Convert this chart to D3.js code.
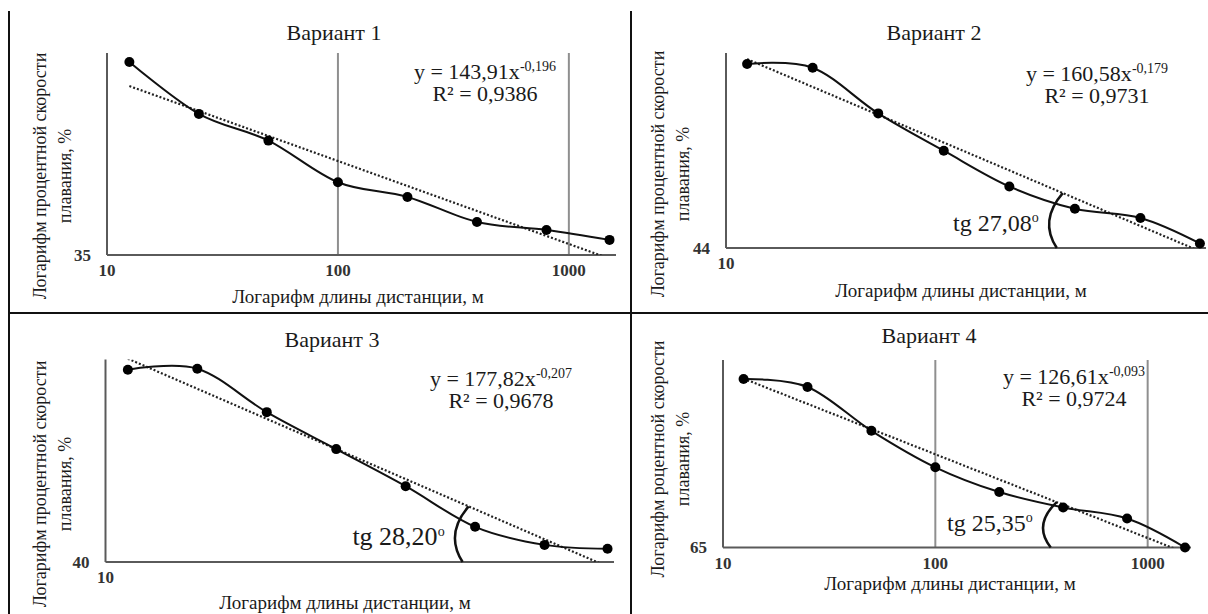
<!DOCTYPE html>
<html>
<head>
<meta charset="utf-8">
<script src="https://cdn.jsdelivr.net/npm/d3@7"></script>
<style>
  body { margin: 0; background: #fff; }
  svg { display: block; }
  svg text { font-family: "Liberation Serif", "DejaVu Serif", serif; fill: #1a1a1a; }
</style>
</head>
<body>
<svg id="chart"></svg>
<script>
// Page size
var width = 1208;
var height = 614;

// Distances, m (x axis, log scale)
var distances = [12.5, 25, 50, 100, 200, 400, 800, 1500];

// Percent swimming speed for each variant (y axis, log scale)
var variant1 = [100, 75.4, 65.2, 52.0, 48.0, 41.9, 40.1, 38.0];
var variant2 = [100, 98.3, 80.2, 67.9, 57.9, 52.4, 50.3, 44.9];
var variant3 = [100, 100.5, 81.7, 68.5, 57.4, 47.3, 43.4, 42.6];
var variant4 = [100, 98.0, 87.6, 79.8, 74.9, 72.0, 70.0, 65.0];
var series = [variant1, variant2, variant3, variant4];

var titles = ["Вариант 1", "Вариант 2", "Вариант 3", "Вариант 4"];
var yMins = [35, 44, 40, 65];
var yMax = 105;
var xDomain = [10, 1600];
var xTickValues = [[10, 100, 1000], [10], [10], [10, 100, 1000]];
var gridValues = [[100, 1000], [], [], [100, 1000]];

// Power trendlines y = a * x^b, as printed on the chart
var trendA = [143.91, 160.58, 177.82, 126.61];
var trendB = [-0.196, -0.179, -0.207, -0.093];
var trendAText = ["143,91", "160,58", "177,82", "126,61"];
var trendBText = ["-0,196", "-0,179", "-0,207", "-0,093"];
var r2Text = ["0,9386", "0,9731", "0,9678", "0,9724"];

// Angle marks: distance where the arc meets the trend line, and label
var angleAt = [null, 352, 375, 373];
var angleText = [null, "tg 27,08", "tg 28,20", "tg 25,35"];
var angleFont = [0, 24, 26, 24];

var yTitle1 = ["Логарифм процентной скорости", "Логарифм процентной скорости",
               "Логарифм процентной скорости", "Логарифм роцентной скорости"];
var yTitle2 = "плавания, %";
var xTitle = "Логарифм длины дистанции, м";

var serif = "'Liberation Serif', 'DejaVu Serif', serif";

// Layout of the four panels (plot box and text anchors)
var layout = [
  { left: 107, right: 616, top: 53, bottom: 255, titleX: 334, titleY: 40, eqX: 485, eqY: 79, ytX: 40, ytY: 176, xtX: 358, xtY: 303 },
  { left: 726, right: 1206, top: 53, bottom: 248, titleX: 934, titleY: 40, eqX: 1097, eqY: 81, ytX: 658, ytY: 174, xtX: 961, xtY: 297 },
  { left: 105.5, right: 614, top: 359.5, bottom: 562, titleX: 332, titleY: 347, eqX: 501, eqY: 386, ytX: 40, ytY: 484, xtX: 345, xtY: 609 },
  { left: 723, right: 1191, top: 360, bottom: 547.5, titleX: 929, titleY: 343, eqX: 1074, eqY: 384, ytX: 658, ytY: 459, xtX: 950, xtY: 590 }
];

var svg = d3.select("#chart")
    .attr("width", width)
    .attr("height", height)
    .attr("font-family", serif);

// Frame lines of the table
var frame = svg.append("g")
    .attr("stroke", "#111")
    .attr("stroke-width", 2);
frame.append("line").attr("x1", 9).attr("x2", 9).attr("y1", 11).attr("y2", height);
frame.append("line").attr("x1", 631).attr("x2", 631).attr("y1", 11).attr("y2", height);
frame.append("line").attr("x1", 9).attr("x2", width).attr("y1", 313).attr("y2", 313);

layout.forEach(function(p, i) {
  var g = svg.append("g");

  var x = d3.scaleLog().domain(xDomain).range([p.left, p.right]);
  var y = d3.scaleLog().domain([yMins[i], yMax]).range([p.bottom, p.top]);

  var trend = function(d) { return trendA[i] * Math.pow(d, trendB[i]); };

  // Title
  g.append("text")
      .attr("x", p.titleX)
      .attr("y", p.titleY)
      .attr("text-anchor", "middle")
      .style("font-size", "22px")
      .text(titles[i]);

  // Vertical gridlines
  g.selectAll(".grid")
      .data(gridValues[i])
      .enter().append("line")
      .attr("x1", function(d) { return x(d); })
      .attr("x2", function(d) { return x(d); })
      .attr("y1", p.top)
      .attr("y2", p.bottom)
      .attr("stroke", "#8f8f8f")
      .attr("stroke-width", 2);

  // Axis lines
  g.append("line")
      .attr("x1", p.left).attr("x2", p.left)
      .attr("y1", p.top).attr("y2", p.bottom)
      .attr("stroke", "#5a5a5a").attr("stroke-width", 2);
  g.append("line")
      .attr("x1", p.left).attr("x2", p.right)
      .attr("y1", p.bottom).attr("y2", p.bottom)
      .attr("stroke", "#5a5a5a").attr("stroke-width", 2);

  // X tick labels
  g.selectAll(".xtick")
      .data(xTickValues[i])
      .enter().append("text")
      .attr("x", function(d) { return x(d); })
      .attr("y", p.bottom + 21)
      .attr("text-anchor", "middle")
      .style("font-size", "17px")
      .style("font-weight", "bold")
      .style("fill", "#333")
      .text(function(d) { return d; });

  // Y min label
  g.append("text")
      .attr("x", p.left - 16)
      .attr("y", y(yMins[i]))
      .attr("dy", "0.35em")
      .attr("text-anchor", "end")
      .style("font-size", "17px")
      .style("font-weight", "bold")
      .style("fill", "#333")
      .text(yMins[i]);

  // Trendline (dotted), clipped to the plot box
  var clipId = "clip" + i;
  svg.append("clipPath").attr("id", clipId)
      .append("rect")
      .attr("x", p.left).attr("y", p.top)
      .attr("width", p.right - p.left).attr("height", p.bottom - p.top);

  var trendEnds = [distances[0], distances[distances.length - 1]];
  g.append("path")
      .datum(trendEnds)
      .attr("clip-path", "url(#" + clipId + ")")
      .attr("fill", "none")
      .attr("stroke", "#222")
      .attr("stroke-width", 2.2)
      .attr("stroke-dasharray", "2,2")
      .attr("d", d3.line()
          .x(function(d) { return x(d); })
          .y(function(d) { return y(trend(d)); }));

  // Smoothed data line
  var pts = distances.map(function(d, k) { return [d, series[i][k]]; });
  g.append("path")
      .datum(pts)
      .attr("fill", "none")
      .attr("stroke", "#111")
      .attr("stroke-width", 2)
      .attr("d", d3.line()
          .curve(d3.curveCardinal.tension(0))
          .x(function(d) { return x(d[0]); })
          .y(function(d) { return y(d[1]); }));

  g.selectAll(".dot")
      .data(pts)
      .enter().append("circle")
      .attr("cx", function(d) { return x(d[0]); })
      .attr("cy", function(d) { return y(d[1]); })
      .attr("r", 5)
      .attr("fill", "#000");

  // Equation and R²
  var eq = g.append("text")
      .attr("x", p.eqX)
      .attr("y", p.eqY)
      .attr("text-anchor", "middle")
      .style("font-size", "22px");
  eq.append("tspan").text("y = " + trendAText[i] + "x");
  eq.append("tspan")
      .attr("dy", -8)
      .style("font-size", "14px")
      .text(trendBText[i]);
  g.append("text")
      .attr("x", p.eqX)
      .attr("y", p.eqY + 22)
      .attr("text-anchor", "middle")
      .style("font-size", "22px")
      .text("R² = " + r2Text[i]);

  // Angle arc and label
  if (angleAt[i] !== null) {
    var xt = x(angleAt[i]);
    var yt = y(trend(angleAt[i]));
    var yb = y(yMins[i]);
    var xb = xt - 6;
    var arcPath = d3.path();
    arcPath.moveTo(xt, yt);
    arcPath.quadraticCurveTo(xt - 24, (yt + yb) / 2, xb, yb);
    g.append("path")
        .attr("d", arcPath.toString())
        .attr("fill", "none")
        .attr("stroke", "#111")
        .attr("stroke-width", 2.5);

    var lab = g.append("text")
        .attr("x", xb - 18)
        .attr("y", yb - 17)
        .attr("text-anchor", "end")
        .style("font-size", angleFont[i] + "px");
    lab.append("tspan").text(angleText[i]);
    lab.append("tspan")
        .attr("dy", -9)
        .style("font-size", "14px")
        .text("o");
  }

  // Y axis title (two rotated lines)
  g.append("text")
      .attr("transform", "translate(" + p.ytX + "," + p.ytY + ") rotate(-90)")
      .attr("text-anchor", "middle")
      .attr("dy", "0.35em")
      .style("font-size", "18px")
      .text(yTitle1[i]);
  g.append("text")
      .attr("transform", "translate(" + (p.ytX + 25) + "," + p.ytY + ") rotate(-90)")
      .attr("text-anchor", "middle")
      .attr("dy", "0.35em")
      .style("font-size", "18px")
      .text(yTitle2);

  // X axis title
  g.append("text")
      .attr("x", p.xtX)
      .attr("y", p.xtY)
      .attr("text-anchor", "middle")
      .style("font-size", "19px")
      .text(xTitle);
});
</script>
</body>
</html>
